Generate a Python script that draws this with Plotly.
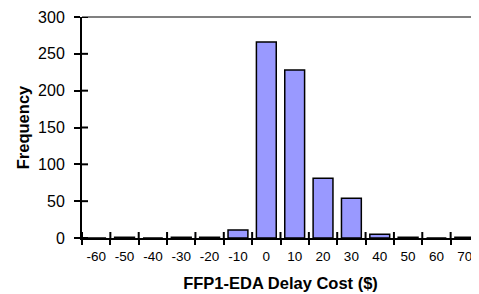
import plotly.graph_objects as go

bins = ["-60", "-50", "-40", "-30", "-20", "-10", "0", "10", "20", "30", "40", "50", "60", "70"]
freq = [0, 1, 0, 1, 1, 11, 266, 228, 81, 54, 5, 1, 0, 1]
y_ticks = [0, 50, 100, 150, 200, 250, 300]

W, H = 471, 286
L, R, T, B = 74, 0, 9, 56
plot_w, plot_h = W - L - R, H - T - B

fig = go.Figure()
fig.add_trace(go.Bar(
    x=bins, y=freq,
    marker=dict(color="#9999FF", line=dict(color="black", width=1.5)),
    hoverinfo="x+y",
))

# inner halves of the "cross" style tick marks
shapes = [dict(type="line", xref="paper", yref="paper", x0=0, x1=1, y0=1, y1=1,
               line=dict(color="#808080", width=2))]
for v in y_ticks:
    shapes.append(dict(type="line", xref="paper", yref="y", x0=0, x1=6 / plot_w,
                       y0=v, y1=v, line=dict(color="black", width=2)))
for i in range(len(bins) + 1):
    shapes.append(dict(type="line", xref="x", yref="paper", x0=i - 0.5, x1=i - 0.5,
                       y0=0, y1=6 / plot_h, line=dict(color="black", width=2)))

axis_common = dict(tickcolor="black", tickwidth=2, showgrid=False, zeroline=False)

fig.update_layout(
    width=W, height=H,
    margin=dict(l=L, r=R, t=T, b=B),
    paper_bgcolor="white", plot_bgcolor="white",
    bargap=0.3,
    showlegend=False,
    font=dict(family="Liberation Sans, Arial, sans-serif", color="black", size=13),
    xaxis=dict(
        type="category", tickson="boundaries", ticks="outside", ticklen=5,
        showline=True, linecolor="black", linewidth=2, tickangle=0,
        tickfont=dict(size=13.5), ticklabelstandoff=5,
        range=[-0.5, len(bins) - 0.5],
        title=dict(text="<b>FFP1-EDA Delay Cost ($)</b>", font=dict(size=16.5), standoff=14),
        automargin=False,
        **axis_common,
    ),
    yaxis=dict(
        range=[0, 300], tickvals=y_ticks, ticks="outside", ticklen=6,
        showline=True, linecolor="black", linewidth=2,
        tickfont=dict(size=16), ticklabelstandoff=6,
        title=dict(text="<b>Frequency</b>", font=dict(size=16.5), standoff=4),
        **axis_common,
    ),
    shapes=shapes,
)

fig.write_html("out.html")
